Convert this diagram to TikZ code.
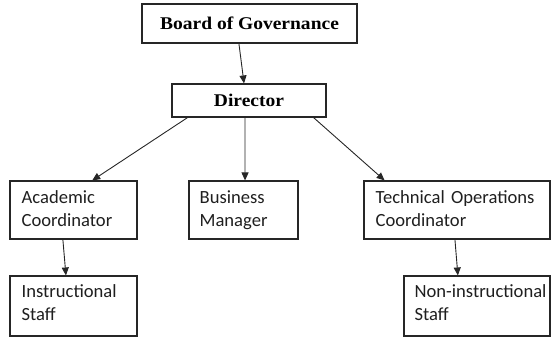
\documentclass[tikz,border=0pt]{standalone}
\usepackage{fontspec}
\setmainfont{Carlito}
\newfontfamily\headfont[FakeStretch=1.09]{Liberation Serif}
\usetikzlibrary{arrows.meta,calc}
\begin{document}
\begin{tikzpicture}[x=1pt,y=-1pt,
  box/.style={draw=black!85,line width=1.1pt,inner sep=0pt,rectangle},
  headbox/.style={box,font=\headfont\fontsize{17.9}{21}\selectfont\bfseries},
  unittext/.style={inner sep=0pt,anchor=base west,align=left,text width=220pt,
    text=black!88,font=\fontsize{18.6}{22.5}\selectfont},
  link/.style={draw=black!85,line width=0.9pt,-{Triangle[length=8pt,width=7pt]}}]
\useasboundingbox (0,0) rectangle (551,337);

% top of the chain
\node[headbox,minimum width=215pt,minimum height=39pt] (board) at (249.5,23.5) {Board of Governance};
\node[headbox,minimum width=154pt,minimum height=33pt] (dir) at (249,100.5) {Director};

% second tier
\node[box,minimum width=127pt,minimum height=58pt] (acad) at (73.5,210) {};
\node[unittext] at ([xshift=12pt,yshift=-23.5pt]acad.north west) {Academic\\Coordinator};
\node[box,minimum width=109pt,minimum height=58pt] (bus) at (243.5,210) {};
\node[unittext] at ([xshift=11pt,yshift=-23.5pt]bus.north west) {Business\\Manager};
\node[box,minimum width=186pt,minimum height=58pt] (tech) at (457,210) {};
\node[unittext] at ([xshift=12pt,yshift=-23.5pt]tech.north west) {Technical Operations\\Coordinator};

% staff
\node[box,minimum width=127pt,minimum height=60pt] (instr) at (73.5,306) {};
\node[unittext] at ([xshift=12pt,yshift=-22.5pt]instr.north west) {Instructional\\Staff};
\node[box,minimum width=146pt,minimum height=60pt] (noninstr) at (477,306) {};
\node[unittext] at ([xshift=11pt,yshift=-22.5pt]noninstr.north west) {Non-instructional\\Staff};

% reporting lines
\draw[link] ($(board.south west)!0.451!(board.south east)$) -- ($(dir.north west)!0.468!(dir.north east)$);
\draw[link] ($(dir.south west)!0.104!(dir.south east)$) -- ($(acad.north west)!0.646!(acad.north east)$);
\draw[link] ($(dir.south west)!0.474!(dir.south east)$) -- ($(bus.north west)!0.514!(bus.north east)$);
\draw[link] ($(dir.south west)!0.916!(dir.south east)$) -- ($(tech.north west)!0.113!(tech.north east)$);
\draw[link] ($(acad.south west)!0.417!(acad.south east)$) -- ($(instr.north west)!0.441!(instr.north east)$);
\draw[link] ($(tech.south west)!0.489!(tech.south east)$) -- ($(noninstr.north west)!0.37!(noninstr.north east)$);
\end{tikzpicture}
\end{document}
